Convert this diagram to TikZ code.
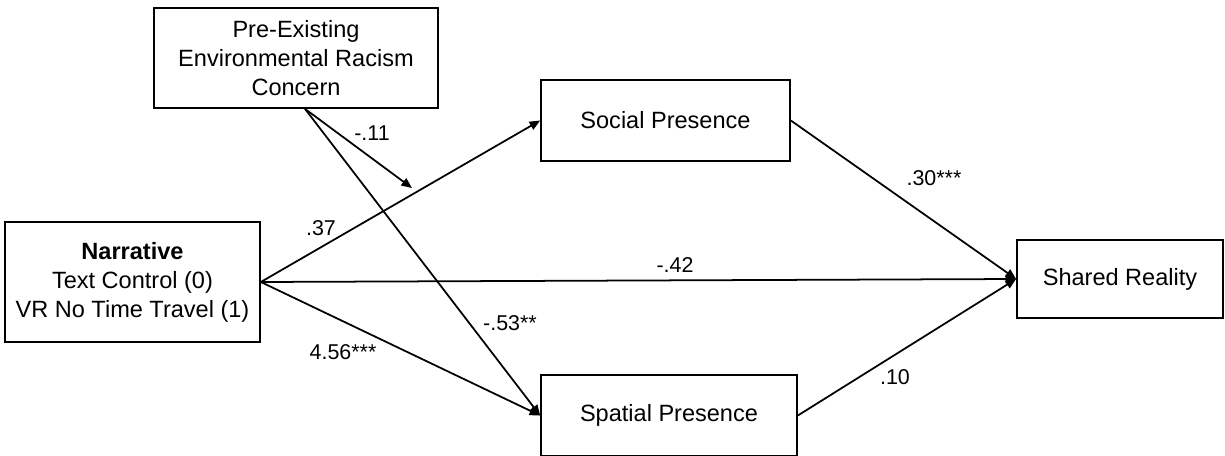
\documentclass[tikz,border=0pt]{standalone}
\usepackage{fontspec}
\setmainfont{Liberation Sans}
\usetikzlibrary{arrows.meta}

\begin{document}
\begin{tikzpicture}[x=0.02cm,y=-0.02cm,
  box/.style={draw,line width=1pt,align=center,inner sep=0pt,font=\fontsize{13.4}{16.5}\selectfont},
  link/.style={line width=1pt,-{Triangle[length=6pt,width=5pt]}},
  coef/.style={font=\fontsize{12.2}{14}\selectfont}]
\useasboundingbox (0,0) rectangle (1225,456);
\path (296,58) node[box,minimum width=5.68cm,minimum height=2cm] (mod) {Pre-Existing\\Environmental Racism\\Concern}
(132.5,282) node[box,minimum width=5.1cm,minimum height=2.4cm] (narr) {\textbf{Narrative}\\Text Control (0)\\VR No Time Travel (1)}
(665.5,120.5) node[box,minimum width=4.98cm,minimum height=1.62cm] (social) {Social Presence}
(669,415.5) node[box,minimum width=5.12cm,minimum height=1.62cm] (spatial) {Spatial Presence}
(1120,279) node[box,minimum width=4.12cm,minimum height=1.56cm] (shared) {Shared Reality};
% moderator leaves the box a bit right of centre and points at the a-path
\coordinate (modout) at ([xshift=0.18cm]mod.south);
\coordinate (hit) at (412,188);
\draw[link] (narr.east) -- (social.west);
\draw[link] (narr.east) -- (spatial.west);
\draw[link] (narr.east) -- (shared.west);
\draw[link] (modout) -- (spatial.west);
\draw[link] (modout) -- (hit);
\draw[link] (social.east) -- (shared.west);
\draw[link] (spatial.east) -- (shared.west);
% coefficients
\path (372,133) node[coef] (bmod) {-.11}
(321,228) node[coef] (bsoc) {.37}
(343,352) node[coef] (bspa) {4.56***}
(675,265) node[coef] (bdir) {-.42}
(510,323) node[coef] (bint) {-.53**}
(934,178) node[coef] (bsr) {.30***}
(895,377) node[coef] (bpr) {.10};
\end{tikzpicture}
\end{document}
